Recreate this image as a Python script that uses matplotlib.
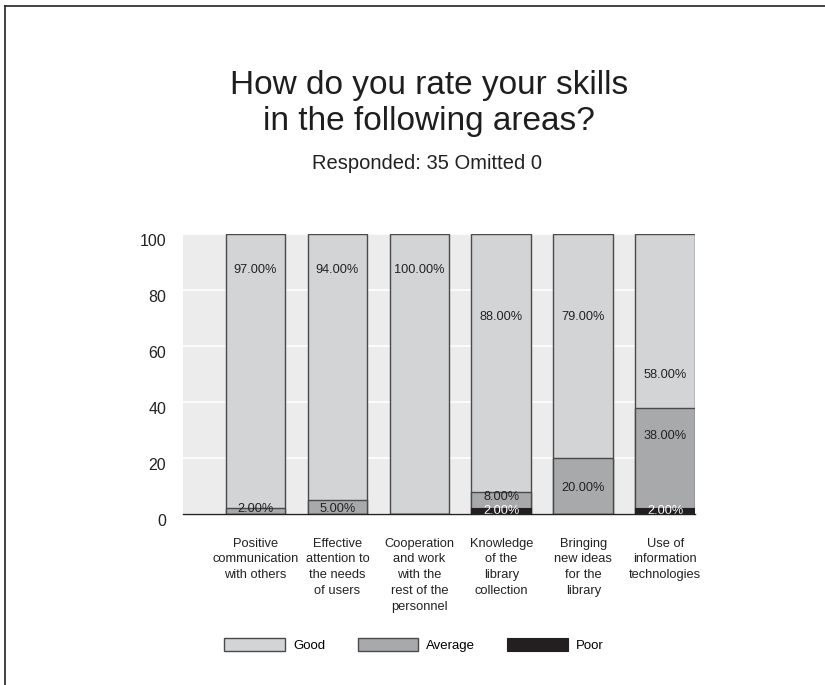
import numpy as np
import matplotlib
matplotlib.use("Agg")
import matplotlib.pyplot as plt
from matplotlib.lines import Line2D
from matplotlib.transforms import offset_copy

plt.rcParams['font.family'] = ['Liberation Sans', 'DejaVu Sans']

# Survey answers, percent of respondents
categories = [
    "Positive\ncommunication\nwith others",
    "Effective\nattention to\nthe needs\nof users",
    "Cooperation\nand work\nwith the\nrest of the\npersonnel",
    "Knowledge\nof the\nlibrary\ncollection",
    "Bringing\nnew ideas\nfor the\nlibrary",
    "Use of\ninformation\ntechnologies",
]
good = [97, 94, 100, 88, 79, 58]
average = [2, 5, 0, 8, 20, 38]
poor = [0, 0, 0, 2, 0, 2]
total = [100, 100, 100, 100, 100, 100]

# where the value labels sit inside each bar
good_label_y = [87, 87, 87, 70.5, 70.5, 49.6]
average_label_y = [1.8, 1.9, 0, 6.0, 9.2, 27.9]
poor_label_y = [1.0, 1.0, 1.0, 1.0, 1.0, 1.0]

c_good = "#d3d4d6"
c_avg = "#a8a9ab"
c_poor = "#231f20"
c_edge = "#4a4a4a"

fig = plt.figure(figsize=(8.25, 6.85), dpi=100)
ax = fig.add_axes([0.2218, 0.2496, 0.621, 0.4088])

x = np.arange(len(categories))
w = 0.73

ax.set_facecolor("#ebeceb")
ax.bar(x, total, w, color=c_good, edgecolor=c_edge, linewidth=1.0, zorder=3, label="Good")
ax.bar(x, average, w, color=c_avg, edgecolor=c_edge, linewidth=1.0, zorder=4, label="Average")
ax.bar(x, poor, w, color=c_poor, edgecolor=c_poor, linewidth=0.8, zorder=5, label="Poor")

for i in range(len(categories)):
    ax.text(x[i], good_label_y[i], f"{good[i]:.2f}%", ha="center", va="center",
            fontsize=9.2, color="#222222", zorder=6)
    if average[i] > 0:
        ax.text(x[i], average_label_y[i], f"{average[i]:.2f}%", ha="center", va="center",
                fontsize=9.2, color="#222222", zorder=6)
    if poor[i] > 0:
        ax.text(x[i], poor_label_y[i], f"{poor[i]:.2f}%", ha="center", va="center",
                fontsize=9.2, color="white", zorder=6)

ax.set_xlim(-0.885, 5.366)
ax.set_ylim(0, 100)
ax.set_yticks([0, 20, 40, 60, 80, 100])
ax.yaxis.grid(True, color="white", linewidth=1.2, zorder=1)
ax.set_axisbelow(True)
for s in ["top", "right", "left"]:
    ax.spines[s].set_visible(False)
ax.spines["bottom"].set_color("#222222")
ax.spines["bottom"].set_linewidth(1.0)
ax.spines["bottom"].set_zorder(7)
ax.tick_params(axis="y", length=0, pad=12, labelsize=11.5, labelcolor="#222222")
for lab in ax.get_yticklabels():
    lab.set_transform(offset_copy(lab.get_transform(), fig=fig, x=0, y=-4, units="points"))

ax.set_xticks(x)
ax.set_xticklabels(categories, fontsize=9.3, linespacing=1.42, color="#222222", va="top")
ax.tick_params(axis="x", length=0, pad=17)

fig.text(0.52, 0.849, "How do you rate your skills\nin the following areas?", ha="center",
         va="center", fontsize=24, linespacing=1.22, color="#1e1e1e")
fig.text(0.518, 0.762, "Responded: 35 Omitted 0", ha="center", va="center",
         fontsize=14.5, color="#222222")

handles, labels = ax.get_legend_handles_labels()
fig.legend(handles, labels, loc="center", bbox_to_anchor=(0.502, 0.058), ncol=3,
           frameon=False, fontsize=9.5, handlelength=4.55, handleheight=1.06,
           handletextpad=0.65, columnspacing=2.45)

# frame lines along the top and left of the page
fig.add_artist(Line2D([0.006, 1.0], [0.991, 0.991], transform=fig.transFigure,
                      color="#222222", linewidth=1.2))
fig.add_artist(Line2D([0.006, 0.006], [0.0, 0.991], transform=fig.transFigure,
                      color="#222222", linewidth=1.2))

fig.savefig("out.png", dpi=100, facecolor="white")
